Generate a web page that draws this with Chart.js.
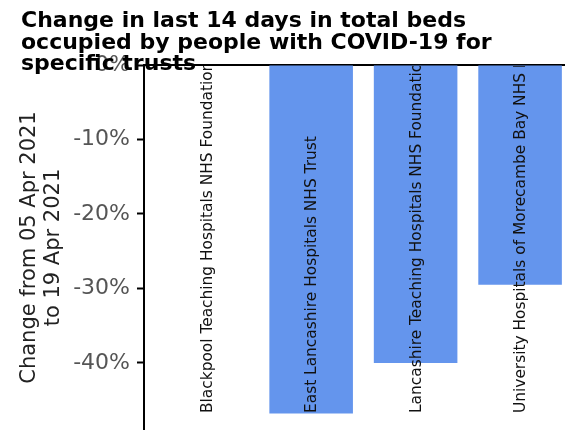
<!DOCTYPE html>
<html>
<head>
<meta charset="utf-8">
<script src="https://cdn.jsdelivr.net/npm/chart.js@4/dist/chart.umd.min.js"></script>
<style>
  html, body { margin: 0; padding: 0; background: #fff; overflow: hidden; }
  #chart { display: block; }
</style>
</head>
<body>
<canvas id="chart" width="565" height="430"></canvas>
<script>
const TITLE_LINES = [
  "Change in last 14 days in total beds",
  "occupied by people with COVID-19 for",
  "specific trusts",
];
const Y_TITLE = ["Change from 05 Apr 2021", "to 19 Apr 2021"];
const TRUSTS = [
  "Blackpool Teaching Hospitals NHS Foundation Trust",
  "East Lancashire Hospitals NHS Trust",
  "Lancashire Teaching Hospitals NHS Foundation Trust",
  "University Hospitals of Morecambe Bay NHS Foundation Trust",
];
const CHANGE_PCT = [0, -46.8, -40.0, -29.5];
const Y_TICKS = [-40, -30, -20, -10, 0];

const FONT = "'DejaVu Sans', sans-serif";
const BAR_COLOR = "#6495ED";

// trust names written upward inside each bar, clipped by the plot area
const barLabels = {
  id: "barLabels",
  afterDatasetsDraw(chart) {
    const { ctx, chartArea } = chart;
    const meta = chart.getDatasetMeta(0);
    ctx.save();
    ctx.beginPath();
    ctx.rect(chartArea.left, chartArea.top + 1, chartArea.right - chartArea.left, chartArea.bottom - chartArea.top);
    ctx.clip();
    ctx.font = `15.4px ${FONT}`;
    ctx.fillStyle = "#111";
    ctx.textAlign = "left";
    ctx.textBaseline = "middle";
    meta.data.forEach((bar, i) => {
      ctx.save();
      ctx.translate(bar.x + 1, chartArea.bottom - 17);
      ctx.rotate(-Math.PI / 2);
      ctx.fillText(TRUSTS[i], 0, 0);
      ctx.restore();
    });
    ctx.restore();
  },
};

// figure title, drawn last so it sits over the axis like the original
const overlayTitle = {
  id: "overlayTitle",
  afterDraw(chart) {
    const { ctx } = chart;
    ctx.save();
    ctx.font = `bold 22px ${FONT}`;
    ctx.fillStyle = "#000";
    ctx.textAlign = "left";
    ctx.textBaseline = "alphabetic";
    TITLE_LINES.forEach((line, i) => ctx.fillText(line, 21, 27 + i * 21.6));
    ctx.restore();
  },
};

new Chart(document.getElementById("chart"), {
  type: "bar",
  data: {
    datasets: [{
      data: TRUSTS.map((t, i) => ({ x: i, y: CHANGE_PCT[i] })),
      backgroundColor: BAR_COLOR,
      borderWidth: 0,
      barPercentage: 1,
      categoryPercentage: 0.8,
    }],
  },
  options: {
    responsive: false,
    animation: false,
    layout: { padding: { top: 65, left: 0, right: 0, bottom: 0 } },
    plugins: { legend: { display: false }, tooltip: { enabled: false }, title: { display: false } },
    scales: {
      x: {
        type: "linear",
        position: "top",
        offset: false,
        min: -0.6,
        max: 3.43,
        afterBuildTicks: (s) => { s.ticks = TRUSTS.map((t, i) => ({ value: i })); },
        ticks: { display: false },
        grid: { display: false, offset: false },
        border: { display: true, color: "#000", width: 2 },
        afterFit: (s) => { s.height = 0; s.paddingLeft = 0; s.paddingRight = 0; },
      },
      y: {
        min: -49,
        max: 0,
        afterBuildTicks: (s) => { s.ticks = Y_TICKS.map((v) => ({ value: v })); },
        ticks: {
          padding: 7,
          color: "#555",
          font: { family: FONT, size: 22 },
          callback: (v) => v + "%",
        },
        grid: { drawOnChartArea: false, drawTicks: true, tickLength: 7, tickWidth: 2, tickColor: "#000" },
        border: { display: true, color: "#000", width: 2 },
        title: {
          display: true,
          text: Y_TITLE,
          color: "#222",
          font: { family: FONT, size: 21, lineHeight: 1.15 },
          padding: { top: 17, bottom: 0 },
        },
        afterFit: (s) => { s.width = 144; s.paddingTop = 0; s.paddingBottom = 0; },
      },
    },
  },
  plugins: [barLabels, overlayTitle],
});
</script>
</body>
</html>
